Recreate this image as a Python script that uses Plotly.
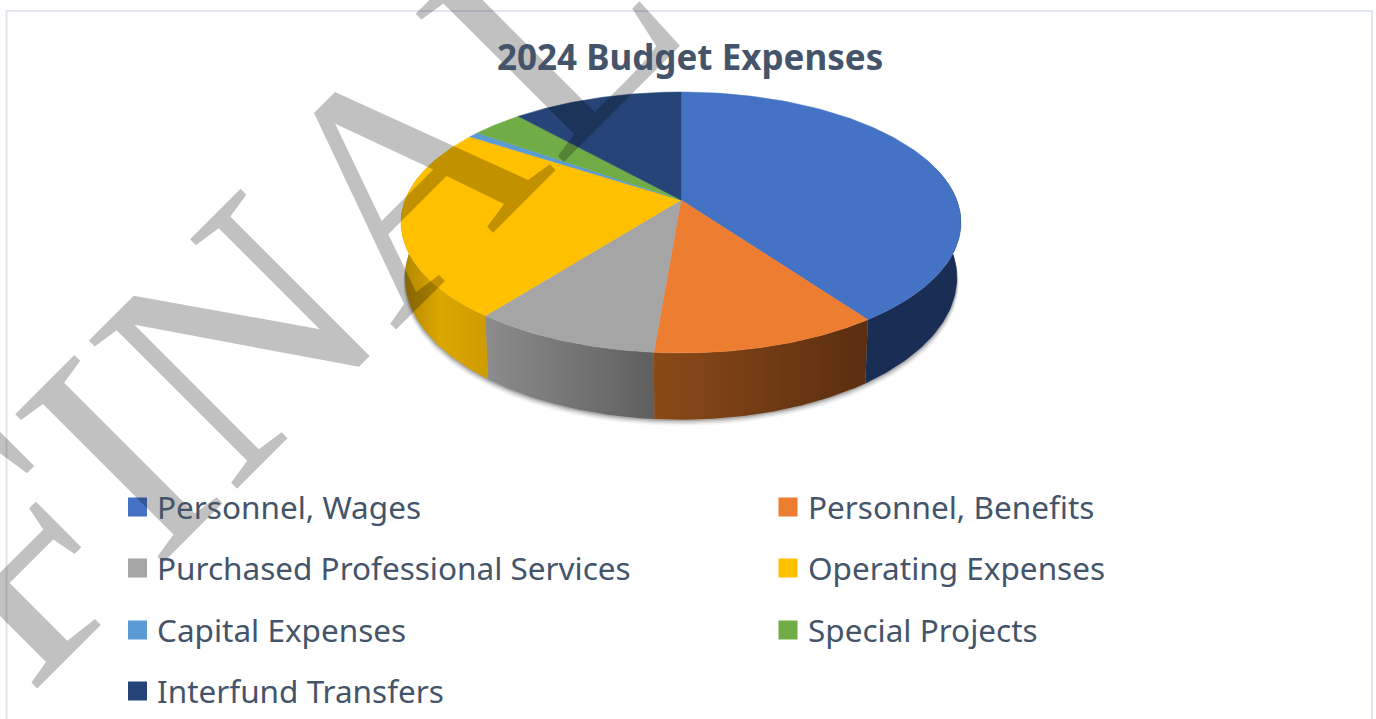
import numpy as np
import plotly.graph_objects as go

# ---- data (percent of budget) ----
categories = ["Personnel, Wages", "Personnel, Benefits", "Purchased Professional Services",
              "Operating Expenses", "Capital Expenses", "Special Projects", "Interfund Transfers"]
values = [40.1, 11.2, 9.2, 23.7, 0.7, 3.5, 11.6]
colors = ["#4472C4", "#ED7D31", "#A5A5A5", "#FFC000", "#5B9BD5", "#70AD47", "#264478"]
wall_scales = [
    [[0, "#1A2E55"], [1, "#1A2E55"]],
    [[0, "#8A4A18"], [1, "#5A2E10"]],
    [[0, "#8C8C8C"], [1, "#5F5F5F"]],
    [[0, "#B08400"], [0.45, "#DCA700"], [1, "#CE9B00"]],
    [[0, "#2F5F8F"], [1, "#2F5F8F"]],
    [[0, "#44692B"], [1, "#44692B"]],
    [[0, "#172948"], [1, "#172948"]],
]
title_text = "2024 Budget Expenses"
watermark_text = "FINAL"

# ---- projection of the tilted disc ----
CX, CY = 681.0, 200.0
A, B, K = 275.8, 126.6, 0.1724


def rim(theta_deg):
    t = np.radians(theta_deg)
    u, v = np.sin(t), -np.cos(t)
    d = 1 - K * v
    return CX + A * u / d, CY + B * v / d


def lower(x, y):
    return CX + (x - CX) * 0.986, 253 + (y - CY) * 1.09


fractions = np.array(values) / sum(values)
edges = np.concatenate([[0], np.cumsum(fractions)]) * 360

fig = go.Figure()

# soft shadow below the wall
th = np.linspace(70, 290, 200)
rx, ry = rim(th)
lx, ly = lower(rx, ry)
for off, alpha in [(6, 0.05), (4.5, 0.08), (3, 0.12), (1.5, 0.2)]:
    sx = CX + (lx - CX) * (1 + off / 900)
    sy = ly + off
    fig.add_trace(go.Scatter(x=np.r_[rx, sx[::-1]], y=np.r_[ry, sy[::-1]], mode="lines", fill="toself",
                             line=dict(width=0), fillcolor=f"rgba(40,40,40,{alpha})",
                             hoverinfo="skip", showlegend=False))

# front wall
for i in range(len(values)):
    a, b = max(edges[i], 75), min(edges[i + 1], 285)
    if b <= a:
        continue
    th = np.linspace(a, b, 80)
    rx, ry = rim(th)
    lx, ly = lower(rx, ry)
    fig.add_trace(go.Scatter(x=np.r_[rx, lx[::-1]], y=np.r_[ry, ly[::-1]], mode="lines", fill="toself",
                             line=dict(width=0),
                             fillgradient=dict(type="horizontal", colorscale=wall_scales[i]),
                             hoverinfo="skip", showlegend=False))

# top face
for i, (cat, col) in enumerate(zip(categories, colors)):
    th = np.linspace(edges[i], edges[i + 1], 120)
    rx, ry = rim(th)
    fig.add_trace(go.Scatter(x=np.r_[CX, rx, CX], y=np.r_[CY, ry, CY], mode="lines", fill="toself",
                             line=dict(width=0.5, color=col), fillcolor=col, name=cat,
                             hoverinfo="name", showlegend=False))

# legend
col_x = [137.5, 788]
text_x = [155, 806]
row_y = [506, 567, 629, 690]
marker_y = [507, 568, 630, 691]
annotations = [dict(text=watermark_text, x=286, y=287, xref="x", yref="y", textangle=-45, showarrow=False,
                    font=dict(family="Liberation Serif", size=320, color="rgba(0,0,0,0.245)"))]
for i, (cat, col) in enumerate(zip(categories, colors)):
    r, c = i // 2, i % 2
    fig.add_trace(go.Scatter(x=[col_x[c]], y=[marker_y[r]], mode="markers",
                             marker=dict(symbol="square", size=19, color=col, line=dict(width=0)),
                             hoverinfo="skip", showlegend=False))
    annotations.append(dict(text=cat, x=text_x[c], y=row_y[r], xref="x", yref="y", xanchor="left",
                            yanchor="middle", showarrow=False,
                            font=dict(family="Noto Sans", size=31.5, color="#44546A")))
annotations.append(dict(text=f"<b>{title_text}</b>", x=690, y=56, xref="x", yref="y", showarrow=False,
                        font=dict(family="Noto Sans", size=35, color="#44546A")))

fig.update_layout(
    width=1376, height=719, margin=dict(l=0, r=0, t=0, b=0),
    paper_bgcolor="white", plot_bgcolor="white",
    xaxis=dict(range=[0, 1376], visible=False, fixedrange=True),
    yaxis=dict(range=[719, 0], visible=False, fixedrange=True),
    annotations=annotations,
    shapes=[dict(type="rect", xref="x", yref="y", x0=6.5, y0=11, x1=1372, y1=740,
                 line=dict(color="#E1E5F0", width=2), layer="below")],
)
fig.write_html("out.html", config=dict(displayModeBar=False),
               post_script="document.body.style.margin='0';document.body.style.overflow='hidden';")
